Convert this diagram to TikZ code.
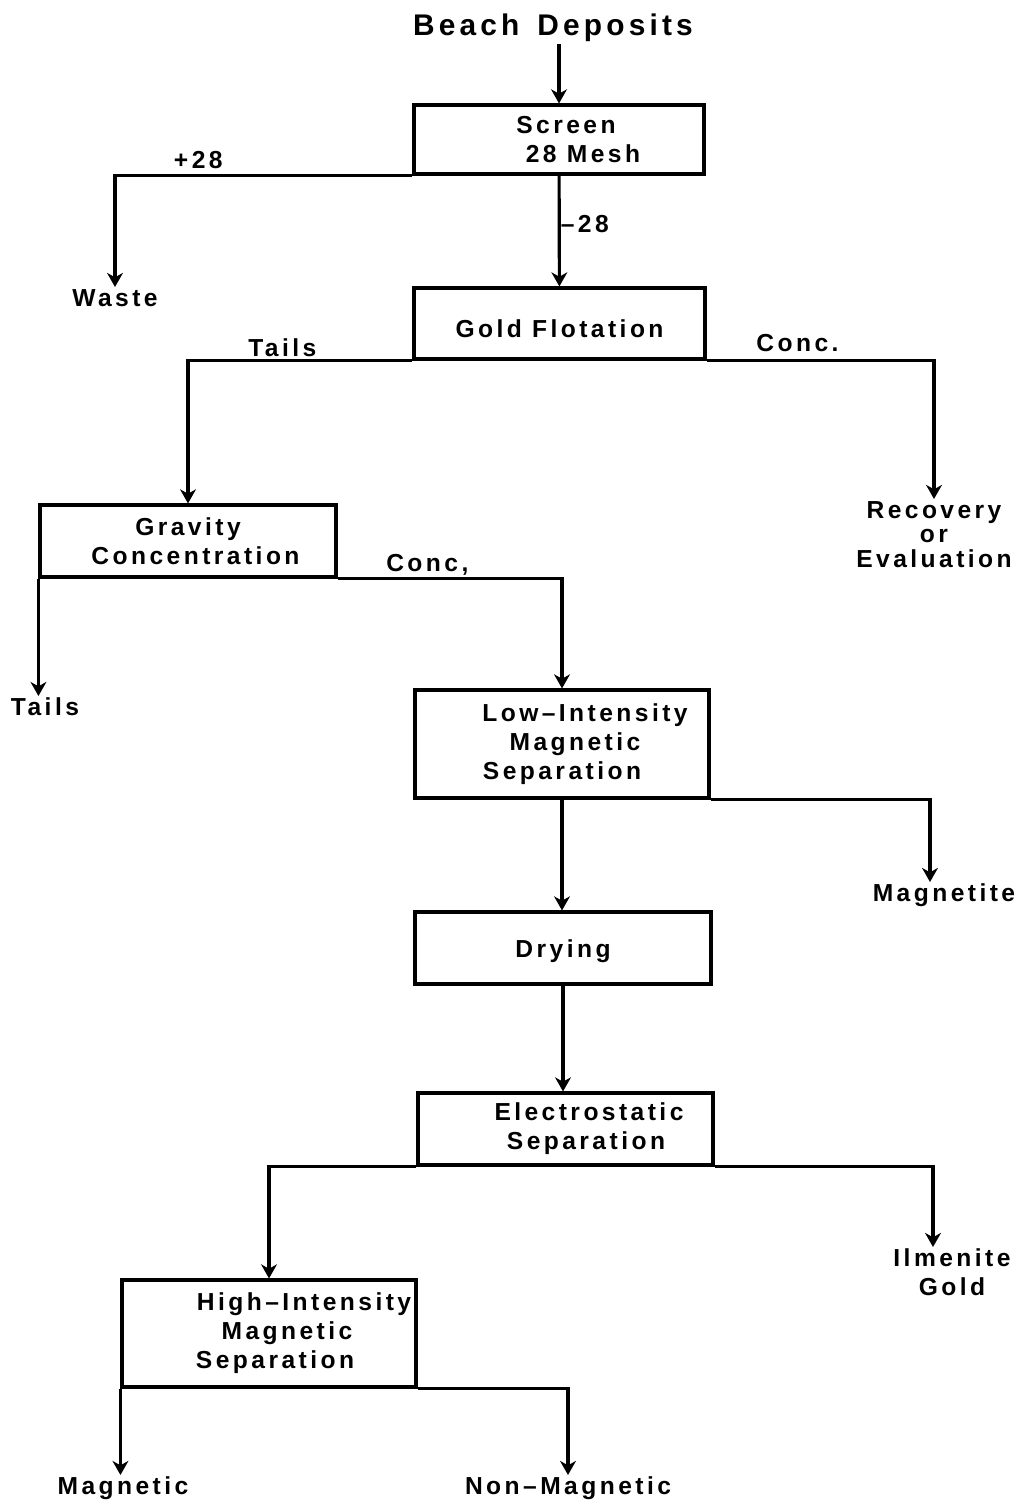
\documentclass[tikz,border=0pt]{standalone}
\usepackage{fontspec}
\newfontfamily\flowfont[LetterSpace=14]{Liberation Sans}
\usetikzlibrary{arrows.meta}

\begin{document}
\begin{tikzpicture}[x=0.02cm, y=-0.02cm,
  every node/.style={font=\flowfont\bfseries\fontsize{14}{16.5}\selectfont, align=center, inner sep=1pt},
  unit/.style={draw, line width=1.8pt, inner sep=0pt},
  flow/.style={line width=1.8pt, -{Stealth[width=9pt,length=8pt,inset=2.5pt]}}]

\useasboundingbox (0,0) rectangle (1024,1504);

% process units
\node[font=\flowfont\bfseries\fontsize{17}{20}\selectfont] (beach) at (553,28) {Beach\hspace{0.6em}Deposits};
\node[unit, minimum width=5.8cm, minimum height=1.38cm] (screen) at (559,139.5) {\hspace*{0.28cm}Screen\\\hspace*{0.96cm}28 Mesh};
\node[unit, minimum width=5.82cm, minimum height=1.42cm, text height=16pt, text depth=0pt] (gold) at (559.5,323.5) {Gold Flotation};
\node[unit, minimum width=5.92cm, minimum height=1.44cm] (gravity) at (188,541) {Gravity\\\hspace*{0.3cm}Concentration};
\node[unit, minimum width=5.88cm, minimum height=2.16cm] (lowint) at (562,744) {\hspace*{0.92cm}Low\textendash Intensity\\\hspace*{0.52cm}Magnetic\\Separation};
\node[unit, minimum width=5.92cm, minimum height=1.44cm, text height=14pt, text depth=3pt] (drying) at (563,948) {Drying};
\node[unit, minimum width=5.9cm, minimum height=1.44cm] (electro) at (565.5,1129) {\hspace*{0.94cm}Electrostatic\\\hspace*{0.82cm}Separation};
\node[unit, minimum width=5.88cm, minimum height=2.14cm] (high) at (269,1333.5) {\hspace*{1.4cm}High\textendash Intensity\\\hspace*{0.72cm}Magnetic\\\hspace*{0.24cm}Separation};

% products
\node[anchor=north] (waste) at (115,287) {Waste};
\node[anchor=north] (recov) at (934,499) {Recovery\\[-2.3pt]or\\[-2.3pt]Evaluation};
\node[anchor=north] (tails) at (45,696) {Tails};
\node[anchor=north] (magnetite) at (944,882) {Magnetite};
\node[anchor=north] (ilmenite) at (952,1247) {Ilmenite\\Gold};
\node[anchor=north] (magnetic) at (123,1475) {Magnetic};
\node[anchor=north] (nonmag) at (568,1475) {Non\textendash Magnetic};

% flows
\draw[flow] (beach.south -| screen.north) -- (screen.north);
\draw[flow] (screen.south west) -| node[pos=0.36, above=2pt] {+28} (waste.north);
\draw[flow] (screen) -- node[pos=0.44, right, inner sep=0pt] {\textendash 28} (gold);
\draw[flow] (gold.south west) -| node[pos=0.29, above] {Tails} (gravity.north);
\draw[flow] (gold.south east) -| node[pos=0.2, above=3pt] {Conc.} (recov.north);
\draw[flow] (gravity.south west) -- (gravity.south west |- tails.north);
\draw[flow] (gravity.south east) -| node[pos=0.2, above] {Conc,} (lowint.north);
\draw[flow] (lowint.south east) -| ([xshift=-0.28cm]magnetite.north);
\draw[flow] (lowint.south) -- (lowint.south |- drying.north);
\draw[flow] (drying.south) -- (drying.south |- electro.north);
\draw[flow] (electro.south west) -| (high.north);
\draw[flow] (electro.south east) -| ([xshift=-0.38cm]ilmenite.north);
\draw[flow] (high.south west) -- (high.south west |- magnetic.north);
\draw[flow] (high.south east) -| (nonmag.north);

\end{tikzpicture}
\end{document}
